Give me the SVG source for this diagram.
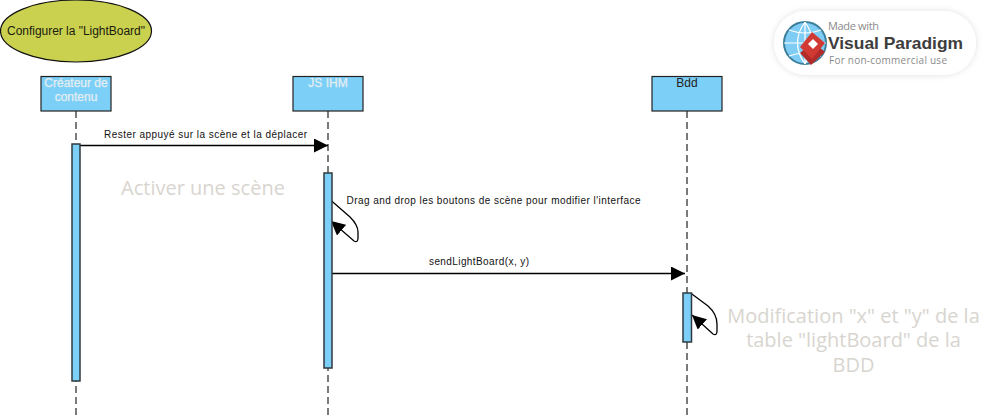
<svg xmlns="http://www.w3.org/2000/svg" width="986" height="420" viewBox="0 0 986 420">
<style>
text{font-family:"Liberation Sans",Arial,sans-serif}
.head{fill:#7ccff7;stroke:#222;stroke-width:1.2}
.ht{fill:#e4eef3;font-size:12px;text-anchor:middle;stroke:#e4eef3;stroke-width:.25}
.act{fill:#7ccff7;stroke:#2f3a40;stroke-width:1.5}
.life{stroke:#7a7a7a;stroke-width:2;stroke-dasharray:7 4;fill:none}
.msg{stroke:#000;stroke-width:1.3;fill:none}
.lbl{font-size:10px;fill:#111}
.note{font-family:"Open Sans","Noto Sans",sans-serif;font-size:20px;fill:#d8d5cf;text-anchor:middle}
.logo{font-family:"Open Sans","Noto Sans",sans-serif;fill:#8a8a8a}
</style>
<defs>
<marker id="ah" markerUnits="userSpaceOnUse" markerWidth="16" markerHeight="14" refX="14" refY="7" orient="auto"><path d="M0 0L14 7L0 14Z" fill="#000"/></marker>
<filter id="sh" x="-10%" y="-20%" width="120%" height="140%"><feDropShadow dx="0" dy="0" stdDeviation="3" flood-color="#000" flood-opacity=".13"/></filter>
</defs>
<rect width="986" height="420" fill="#fff"/>
<g id="title"><ellipse cx="76" cy="31" rx="75.500" ry="31" fill="#c9d14f" stroke="#111" stroke-width="1.2"/><text x="76" y="35" font-size="12" text-anchor="middle" fill="#1c1c10" textLength="138">Configurer la "LightBoard"</text></g>
<g id="connectors">
<path class="life" d="M76 111V416"/><path class="life" d="M328 111V416"/><path class="life" d="M687 111V416"/>
<path class="msg" d="M80 145.500H328" marker-end="url(#ah)"/>
<path class="msg" d="M330.500 200L350 217Q358 225 358 232V238Q358 243 354 241L331 221" marker-end="url(#ah)"/>
<path class="msg" d="M332 273.500H685" marker-end="url(#ah)"/>
<path class="msg" d="M690.500 293L708 306Q717 314 717 324V331Q717 336 713 334L692 315" marker-end="url(#ah)"/>
</g>
<g id="creator"><rect class="head" x="41" y="76.500" width="70" height="34.500"/><text class="ht" x="76" y="87">Créateur de</text><text class="ht" x="76" y="101">contenu</text><rect class="act" x="72" y="144" width="8" height="237"/></g>
<g id="jsihm"><rect class="head" x="293" y="76.500" width="70" height="34.500"/><text class="ht" x="328" y="87">JS IHM</text><rect class="act" x="324" y="173" width="8" height="195"/></g>
<g id="bdd"><rect class="head" x="652" y="76.500" width="70" height="34.500"/><text x="687" y="87" font-size="12" text-anchor="middle" fill="#222">Bdd</text><rect class="act" x="683" y="293" width="8.500" height="49"/></g>
<g id="labels">
<text class="lbl" x="104" y="138" textLength="203">Rester appuyé sur la scène et la déplacer</text>
<text class="lbl" x="346.500" y="204" textLength="294">Drag and drop les boutons de scène pour modifier l'interface</text>
<text class="lbl" x="429" y="265" textLength="100">sendLightBoard(x, y)</text>
<text class="note" x="203" y="194.500">Activer une scène</text>
<text class="note" x="853.500" y="322.500">Modification "x" et "y" de la</text>
<text class="note" x="853.500" y="347">table "lightBoard" de la</text>
<text class="note" x="853.500" y="372">BDD</text>
</g>
<g id="watermark">
<rect x="774" y="11" width="202" height="64" rx="32" fill="#fff" filter="url(#sh)"/>
<circle cx="805" cy="43" r="21" fill="#7fcdf5" stroke="#3c7f9a" stroke-width="2"/>
<path d="M784 43H826M805 22V64M789 30Q805 36 821 30M789 56Q805 50 821 56M805 22Q790 43 805 64M805 22Q820 43 805 64" fill="none" stroke="#fff" stroke-width="1.2"/>
<path d="M800 53L811 65L825 52L813 42Z" fill="#b22b2b"/>
<path d="M800 47L812 32L825 43L812 59Z" fill="#d13a33"/>
<path d="M808 44L813 39L818 44L813 49Z" fill="#fff"/>
<text class="logo" x="828" y="30" font-size="11" textLength="51">Made with</text>
<text x="828" y="49" font-size="17" font-weight="700" fill="#3d3d3d" textLength="135" lengthAdjust="spacingAndGlyphs">Visual Paradigm</text>
<text class="logo" x="829" y="63.500" font-size="10" textLength="118">For non-commercial use</text>
</g>
</svg>
